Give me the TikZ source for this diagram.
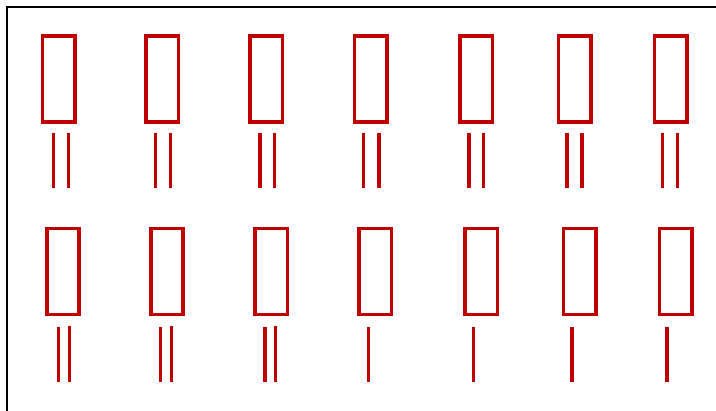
\documentclass[tikz,border=0pt]{standalone}
\definecolor{boxred}{RGB}{192,0,0}
\begin{document}
\begin{tikzpicture}[x=0.75pt,y=-0.75pt,
  pin/.style={draw=boxred,line width=2.8pt,minimum width=24.2pt,minimum height=64.5pt,inner sep=0pt,outer sep=0pt},
  lead/.style={draw=boxred,line width=2.6pt},
  frame/.style={draw=black,line width=1.8pt}]
\useasboundingbox (0,0) rectangle (716,410);
\begin{scope}
\clip (0,0) rectangle (716,410);
\draw[frame] (7,420) -- (7,7) -- (730,7);
\end{scope}
% row 1
\foreach \i/\cx/\la/\lb in {1/58.5/53.3/68.3, 2/162.3/155.7/170.7, 3/266.3/260/274.7, 4/370.7/363.7/379, 5/476.3/469/483.7, 6/574.7/567/582, 7/670.5/662.3/677.3}{
  \node[pin] (a\i) at (\cx,79.2) {};
  \draw[lead] (\la,132.7) -- (\la,188.3);
  \draw[lead] (\lb,132.7) -- (\lb,188.3);
}
% row 2, double leads
\foreach \i/\cx/\la/\lb in {1/63.2/58.7/69.3, 2/167.2/160.7/171.3, 3/271.3/265/275.7}{
  \node[pin] (b\i) at (\cx,271.5) {};
  \draw[lead] (\la,326.7) -- (\la,382.3);
  \draw[lead] (\lb,326.2) -- (\lb,381.8);
}
% row 2, single leads
\foreach \i/\cx/\la in {4/375.3/368.7, 5/481.3/473.7, 6/579.7/572, 7/675.5/667}{
  \node[pin] (b\i) at (\cx,271.5) {};
  \draw[lead] (\la,326.7) -- (\la,382.3);
}
\end{tikzpicture}
\end{document}
